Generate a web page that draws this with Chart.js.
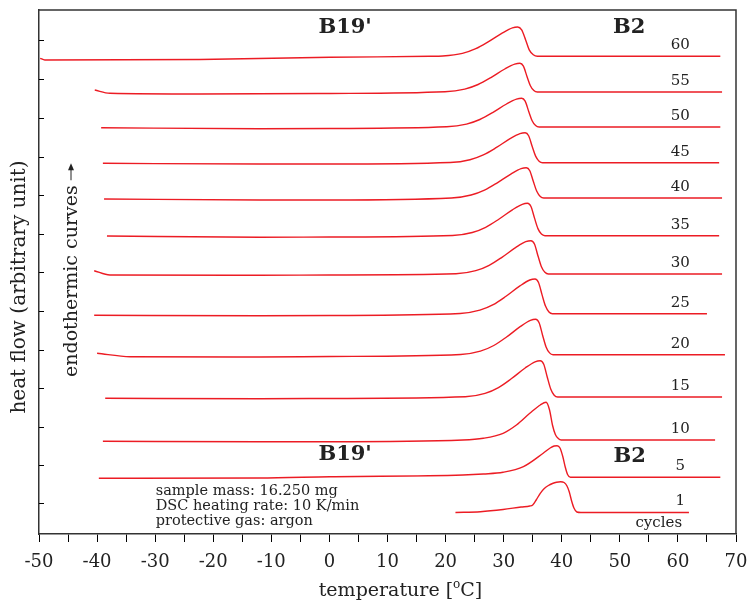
<!DOCTYPE html>
<html><head><meta charset="utf-8">
<script src="https://cdn.jsdelivr.net/npm/chart.js@4.4.1/dist/chart.umd.min.js"></script>
<style>html,body{margin:0;padding:0;background:#fff}canvas{display:block}</style>
</head><body>
<canvas id="c" width="753" height="603"></canvas>
<script>
// cycle numbers (top to bottom)
const cycles = [60, 55, 50, 45, 40, 35, 30, 25, 20, 15, 10, 5, 1];

// temperature [°C] and heat flow (arbitrary unit) for each cycle
const T60 = [-49.8, -49.0, -22.3, 0.1, 17.3, 19.5, 22.9, 25.2, 27.4, 29.8, 31.5, 32.4, 33.1, 33.8, 34.4, 35.1, 35.8, 67.3];
const H60 = [47.57, 47.40, 47.45, 47.67, 47.77, 47.80, 48.06, 48.53, 49.24, 50.11, 50.61, 50.70, 50.41, 49.38, 48.41, 47.92, 47.77, 47.77];
const T55 = [-40.4, -37.8, -22.3, 0.1, 19.9, 23.3, 25.6, 27.8, 30.2, 31.9, 32.8, 33.4, 34.0, 34.6, 35.2, 35.8, 67.6];
const H55 = [44.40, 44.07, 44.00, 44.05, 44.22, 44.49, 44.95, 45.64, 46.50, 46.98, 47.07, 46.78, 45.78, 44.83, 44.34, 44.20, 44.20];
const T50 = [-39.3, -12.0, 0.1, 20.2, 23.6, 25.9, 28.1, 30.5, 32.2, 33.1, 33.7, 34.3, 34.9, 35.5, 36.1, 67.3];
const H50 = [40.63, 40.53, 40.55, 40.72, 40.99, 41.45, 42.14, 43.00, 43.48, 43.57, 43.28, 42.28, 41.33, 40.84, 40.70, 40.70];
const T45 = [-39.0, -12.0, 0.1, 20.8, 24.2, 26.5, 28.7, 31.1, 32.8, 33.7, 34.3, 34.9, 35.5, 36.1, 36.7, 67.1];
const H45 = [37.07, 37.00, 37.00, 37.15, 37.43, 37.91, 38.63, 39.53, 40.04, 40.13, 39.83, 38.78, 37.79, 37.28, 37.13, 37.13];
const T40 = [-38.8, -12.0, 0.1, 21.0, 24.4, 26.7, 28.9, 31.3, 33.0, 33.9, 34.5, 35.1, 35.7, 36.3, 36.9, 67.6];
const H40 = [33.50, 33.40, 33.40, 33.60, 33.90, 34.39, 35.12, 36.02, 36.54, 36.63, 36.33, 35.27, 34.27, 33.75, 33.60, 33.60];
const T35 = [-38.3, -12.0, 0.1, 21.2, 24.6, 26.9, 29.1, 31.5, 33.2, 34.1, 34.7, 35.3, 35.9, 36.5, 37.1, 67.1];
const H35 = [29.80, 29.67, 29.70, 29.85, 30.15, 30.67, 31.45, 32.42, 32.97, 33.07, 32.75, 31.61, 30.54, 29.99, 29.83, 29.83];
const T30 = [-40.5, -37.8, -12.0, 0.1, 21.8, 25.2, 27.5, 29.7, 32.1, 33.8, 34.7, 35.3, 35.9, 36.5, 37.1, 37.7, 67.6];
const H30 = [26.33, 25.90, 25.87, 25.90, 26.02, 26.33, 26.87, 27.67, 28.66, 29.23, 29.33, 29.00, 27.83, 26.73, 26.17, 26.00, 26.00];
const T25 = [-40.5, -12.0, 0.1, 22.5, 25.9, 28.2, 30.4, 32.8, 34.5, 35.4, 36.0, 36.6, 37.2, 37.8, 38.4, 65.0];
const H25 = [21.87, 21.83, 21.85, 22.05, 22.38, 22.93, 23.77, 24.81, 25.40, 25.50, 25.15, 23.94, 22.79, 22.20, 22.03, 22.03];
const T20 = [-40.0, -34.3, -12.0, 0.1, 22.6, 26.0, 28.3, 30.5, 32.9, 34.6, 35.5, 36.1, 36.7, 37.3, 37.9, 38.5, 68.1];
const H20 = [18.07, 17.73, 17.70, 17.75, 17.95, 18.28, 18.85, 19.70, 20.76, 21.36, 21.47, 21.12, 19.88, 18.71, 18.11, 17.93, 17.93];
const T15 = [-38.6, -12.0, 0.1, 23.4, 26.8, 29.1, 31.3, 33.7, 35.4, 36.3, 36.9, 37.5, 38.1, 38.7, 39.3, 67.6];
const H15 = [13.57, 13.53, 13.55, 13.72, 14.06, 14.64, 15.52, 16.60, 17.22, 17.33, 16.97, 15.70, 14.50, 13.88, 13.70, 13.70];
const T10 = [-39.0, -12.0, 0.1, 23.0, 26.5, 29.9, 32.2, 34.5, 36.3, 37.3, 37.9, 38.4, 38.9, 39.4, 39.9, 66.4];
const H10 = [9.27, 9.23, 9.23, 9.40, 9.57, 10.07, 10.90, 12.07, 12.90, 13.17, 12.40, 10.90, 9.95, 9.55, 9.40, 9.40];
const T5  = [-39.7, -12.0, 0.1, 23.0, 26.5, 29.9, 33.4, 36.8, 38.0, 38.7, 39.2, 39.7, 40.2, 40.6, 41.0, 41.5, 67.3];
const H5  = [5.57, 5.60, 5.73, 5.90, 6.00, 6.17, 6.73, 8.07, 8.60, 8.80, 8.83, 8.60, 7.70, 6.70, 5.95, 5.67, 5.67];
const T1  = [21.7, 26.0, 29.9, 33.0, 34.5, 35.0, 35.6, 36.3, 37.0, 37.7, 38.4, 39.1, 39.8, 40.4, 40.9, 41.3, 41.7, 42.1, 42.6, 43.3, 61.9];
const H1  = [2.15, 2.23, 2.45, 2.70, 2.80, 2.90, 3.40, 4.07, 4.55, 4.85, 5.05, 5.18, 5.23, 5.15, 4.80, 4.20, 3.30, 2.60, 2.20, 2.15, 2.15];

// axis tick positions
const xTickLabels = [-50, -40, -30, -20, -10, 0, 10, 20, 30, 40, 50, 60, 70];
const yTicks = [3.1, 6.9, 10.7, 14.6, 18.4, 22.3, 26.2, 30.0, 33.9, 37.7, 41.6, 45.5, 49.4];

const temps = [T60, T55, T50, T45, T40, T35, T30, T25, T20, T15, T10, T5, T1];
const flows = [H60, H55, H50, H45, H40, H35, H30, H25, H20, H15, H10, H5, H1];

const RED = '#ec1c24';
const INK = '#222';
const FONT = '"DejaVu Serif", serif';

const datasets = cycles.map((c, i) => ({
  label: String(c),
  data: temps[i].map((t, j) => ({x: t, y: flows[i][j]})),
  borderColor: RED,
  borderWidth: 1.4,
  pointRadius: 0,
  fill: false,
  cubicInterpolationMode: 'monotone'
}));

const annot = {
  id: 'annot',
  afterDraw(chart) {
    const {ctx, chartArea: a, scales: {x, y}} = chart;
    ctx.save();
    // frame top/right
    ctx.strokeStyle = '#333';
    ctx.lineWidth = 1.5;
    ctx.beginPath();
    ctx.moveTo(a.left, a.top); ctx.lineTo(a.right, a.top); ctx.lineTo(a.right, a.bottom);
    ctx.stroke();
    // inner y ticks
    ctx.strokeStyle = '#000';
    ctx.lineWidth = 1;
    yTicks.forEach(v => {
      const py = Math.round(y.getPixelForValue(v)) + 0.5;
      ctx.beginPath(); ctx.moveTo(a.left, py); ctx.lineTo(a.left + 5, py); ctx.stroke();
    });
    ctx.fillStyle = INK;
    // cycle labels
    ctx.font = '15px ' + FONT;
    ctx.textAlign = 'center';
    ctx.textBaseline = 'middle';
    cycles.forEach((c, i) => {
      const base = flows[i][flows[i].length - 1];
      ctx.fillText(String(c), x.getPixelForValue(60.4), y.getPixelForValue(base + 1.1));
    });
    ctx.fillText('cycles', x.getPixelForValue(56.7), y.getPixelForValue(1.1));
    // phase labels
    ctx.font = 'bold 21px ' + FONT;
    ctx.fillText("B19'", x.getPixelForValue(2.7), y.getPixelForValue(50.6));
    ctx.fillText('B2', x.getPixelForValue(51.6), y.getPixelForValue(50.6));
    ctx.fillText("B19'", x.getPixelForValue(2.7), y.getPixelForValue(7.9));
    ctx.fillText('B2', x.getPixelForValue(51.7), y.getPixelForValue(7.7));
    // info block
    ctx.font = '14.5px ' + FONT;
    ctx.textAlign = 'left';
    ctx.textBaseline = 'alphabetic';
    const lx = x.getPixelForValue(-29.9);
    ctx.fillText('sample mass: 16.250 mg', lx, y.getPixelForValue(3.9));
    ctx.fillText('DSC heating rate: 10 K/min', lx, y.getPixelForValue(2.4));
    ctx.fillText('protective gas: argon', lx, y.getPixelForValue(0.9));
    // endothermic curves (rotated) with arrow
    ctx.save();
    ctx.translate(a.left + 38, a.top + 367);
    ctx.rotate(-Math.PI / 2);
    ctx.font = '19px ' + FONT;
    ctx.fillText('endothermic curves', 0, 0);
    const w = ctx.measureText('endothermic curves').width;
    ctx.strokeStyle = INK; ctx.lineWidth = 1;
    ctx.beginPath(); ctx.moveTo(w + 5, -6); ctx.lineTo(w + 18, -6); ctx.stroke();
    ctx.beginPath(); ctx.moveTo(w + 22, -6); ctx.lineTo(w + 15, -9); ctx.lineTo(w + 15, -3); ctx.closePath(); ctx.fill();
    ctx.restore();
    // y axis title
    ctx.save();
    ctx.translate(a.left - 14, (a.top + a.bottom) / 2 + 15);
    ctx.rotate(-Math.PI / 2);
    ctx.font = '20px ' + FONT;
    ctx.textAlign = 'center';
    ctx.fillText('heat flow (arbitrary unit)', 0, 0);
    ctx.restore();
    // x axis title with superscript o
    ctx.font = '19px ' + FONT;
    const p1 = 'temperature [', p3 = 'C]';
    const sup = 'o';
    ctx.textAlign = 'left';
    const w1 = ctx.measureText(p1).width, w3 = ctx.measureText(p3).width;
    ctx.font = '12px ' + FONT;
    const w2 = ctx.measureText(sup).width;
    const total = w1 + w2 + w3;
    const cx = (a.left + a.right) / 2 + 13;
    const by = a.bottom + 62;
    let sx = cx - total / 2;
    ctx.font = '19px ' + FONT;
    ctx.fillText(p1, sx, by);
    ctx.font = '12px ' + FONT;
    ctx.fillText(sup, sx + w1, by - 8);
    ctx.font = '19px ' + FONT;
    ctx.fillText(p3, sx + w1 + w2, by);
    ctx.restore();
  }
};

new Chart(document.getElementById('c'), {
  type: 'line',
  data: {datasets},
  options: {
    responsive: false,
    animation: false,
    devicePixelRatio: 1,
    layout: {padding: {left: 39, right: 17, top: 10, bottom: 27}},
    plugins: {legend: {display: false}, tooltip: {enabled: false}},
    scales: {
      x: {
        type: 'linear', min: -50, max: 70,
        afterFit(s) { s.height = 42; s.paddingLeft = 0; s.paddingRight = 0; },
        ticks: {
          stepSize: 5, autoSkip: false, maxRotation: 0, padding: 10,
          color: INK, font: {family: FONT, size: 18},
          callback: v => xTickLabels.includes(v) ? String(v) : ''
        },
        grid: {drawOnChartArea: false, drawTicks: true, tickLength: 8, color: '#000', lineWidth: 1},
        border: {display: true, color: '#333', width: 1.5}
      },
      y: {
        min: 0, max: 52.4,
        afterFit(s) { s.width = 0; s.paddingTop = 0; s.paddingBottom = 0; },
        ticks: {display: false},
        grid: {drawOnChartArea: false, drawTicks: false},
        border: {display: true, color: '#333', width: 1.5}
      }
    }
  },
  plugins: [annot]
});
</script>
</body></html>
